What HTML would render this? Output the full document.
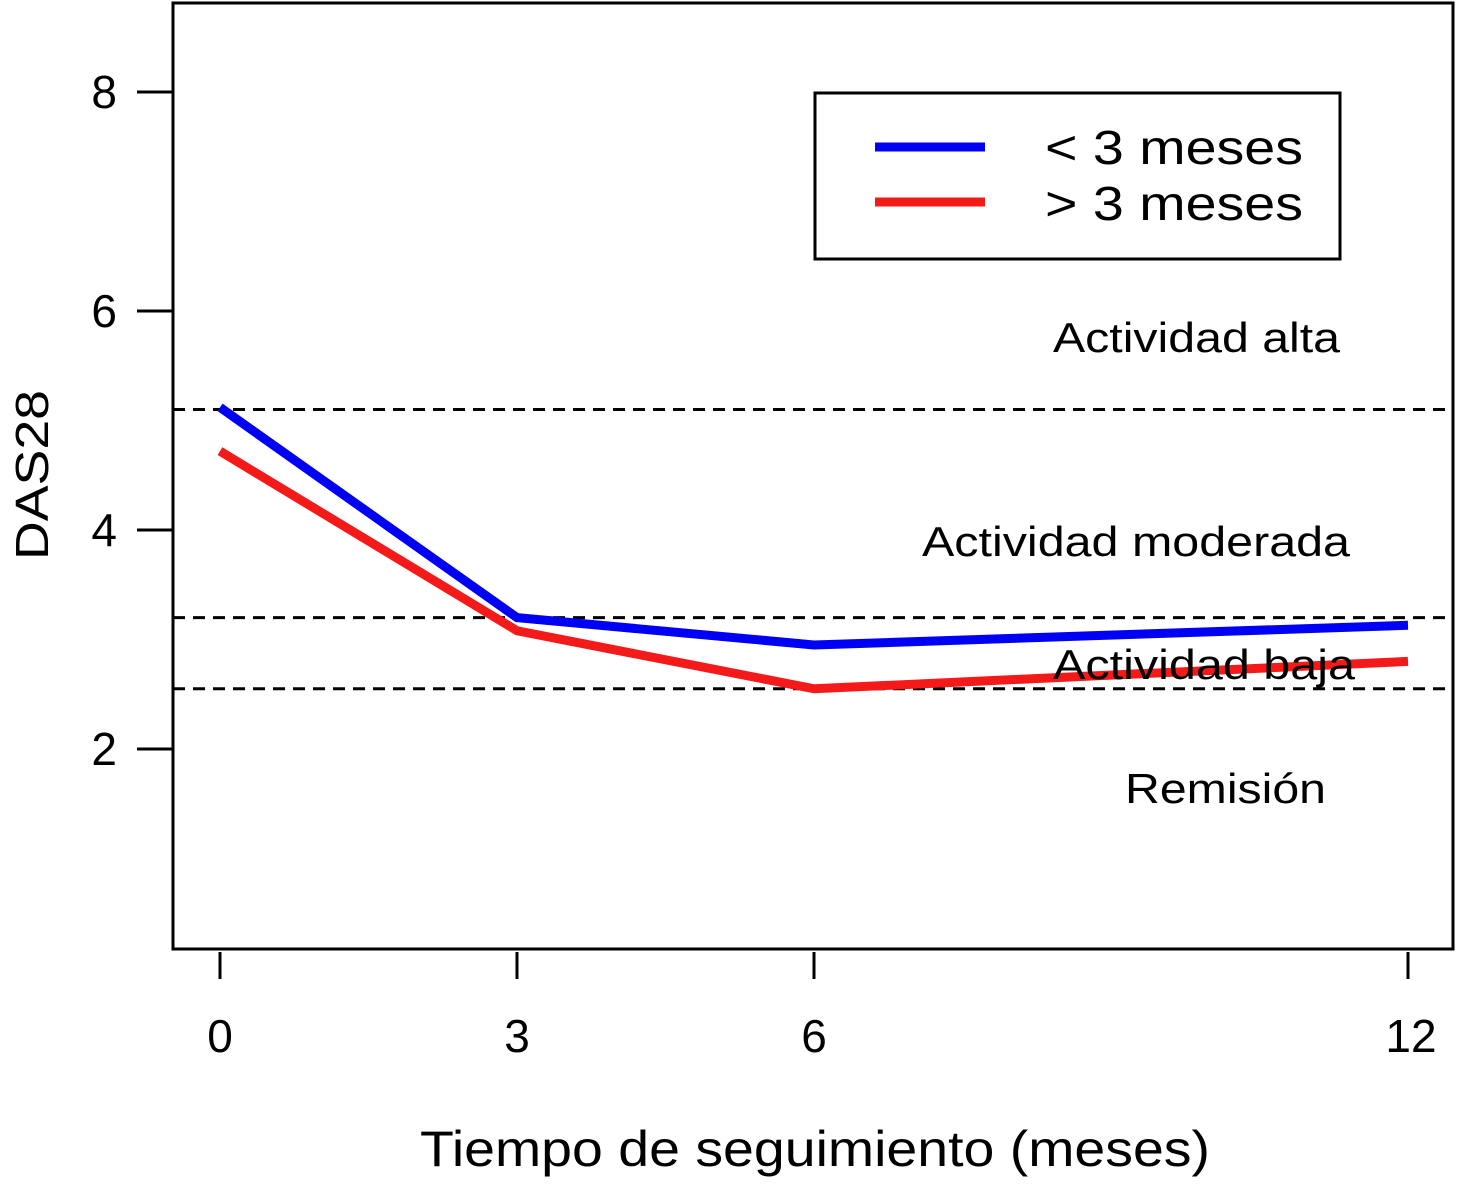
<!DOCTYPE html>
<html><head><meta charset="utf-8"><style>
body{margin:0;background:#fff}
svg text{font-family:"Liberation Sans",Arial,sans-serif;fill:#000}
</style></head><body>
<svg id="c" width="1459" height="1179" viewBox="0 0 1459 1179">
<rect x="173" y="3" width="1280" height="946" fill="none" stroke="#000" stroke-width="3"/>
<g id="g"></g>
<text x="420" y="1166" font-size="50" textLength="790" lengthAdjust="spacingAndGlyphs">Tiempo de seguimiento (meses)</text>
<text transform="translate(48,475) rotate(-90)" font-size="46" text-anchor="middle" textLength="170" lengthAdjust="spacingAndGlyphs">DAS28</text>
<g>
<rect x="815" y="93" width="525" height="166" fill="#fff" stroke="#000" stroke-width="3"/>
<line x1="875" y1="147" x2="985" y2="147" stroke="#0000f5" stroke-width="9"/>
<line x1="875" y1="202" x2="985" y2="202" stroke="#f51a1a" stroke-width="9"/>
<text x="1045" y="164" font-size="48" textLength="258" lengthAdjust="spacingAndGlyphs">&lt; 3 meses</text>
<text x="1045" y="220" font-size="48" textLength="258" lengthAdjust="spacingAndGlyphs">&gt; 3 meses</text>
</g>
<text x="1053" y="352" font-size="42" textLength="287" lengthAdjust="spacingAndGlyphs">Actividad alta</text>
<text x="922" y="556" font-size="42" textLength="428" lengthAdjust="spacingAndGlyphs">Actividad moderada</text>
<text x="1053" y="679" font-size="42" textLength="302" lengthAdjust="spacingAndGlyphs">Actividad baja</text>
<text x="1125" y="803" font-size="42" textLength="201" lengthAdjust="spacingAndGlyphs">Remisión</text>
</svg>
<script>
const months=[0,3,6,12];
const blue=[5.12,3.2,2.95,3.13];
const red=[4.72,3.08,2.55,2.8];
const thresholds=[5.1,3.2,2.55];
const yTicks=[2,4,6,8];
const xTicks=[0,3,6,12];
const NS="http://www.w3.org/2000/svg";
const g=document.getElementById('g');
const x=m=>220+99*m;
const y=v=>749-(v-2)*109.5;
function mk(t,a){const e=document.createElementNS(NS,t);for(const k in a)e.setAttribute(k,a[k]);g.appendChild(e);return e;}
thresholds.forEach(t=>{
 const l=mk('line',{x1:173,x2:1453,y1:y(t),y2:y(t),stroke:'#000','stroke-width':3,'stroke-dasharray':'12,8'});
 
 
});
yTicks.forEach(v=>{
 const l=mk('line',{x1:137,x2:173,y1:y(v),y2:y(v),stroke:'#000','stroke-width':3});
 
 
 const t=mk('text',{x:117,y:y(v)+16,'font-size':46,'text-anchor':'end'});t.textContent=v;
 
 
});
xTicks.forEach(m=>{
 const l=mk('line',{x1:x(m),x2:x(m),y1:952,y2:979,stroke:'#000','stroke-width':3});
 
 
 const t=mk('text',{x:x(m)+(m>=10?3:0),y:1052,'font-size':46,'text-anchor':'middle'});t.textContent=m;
 
 
});
[[red,'#f51a1a','series-gt3-line'],[blue,'#0000f5','series-lt3-line']].forEach(([d,c,n])=>{
 const p=mk('polyline',{points:d.map((v,i)=>x(months[i])+','+y(v)).join(' '),fill:'none',stroke:c,'stroke-width':9});
 
 
});
</script>
</body></html>
